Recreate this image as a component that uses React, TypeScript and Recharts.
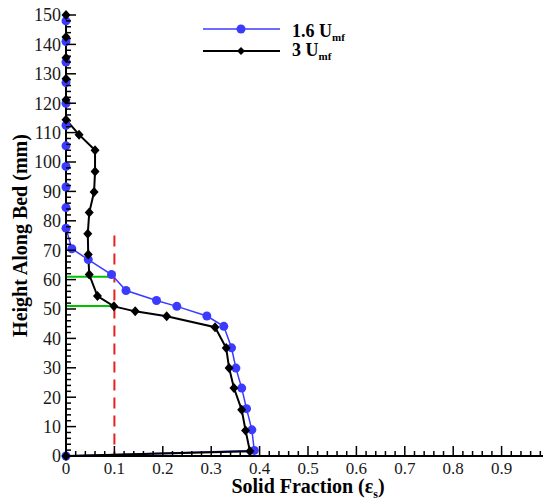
import React from 'react';
import { LineChart, Line, XAxis, YAxis, ReferenceLine, Legend } from 'recharts';

// 1.6 Umf series (blue circles): height (mm) and solid fraction
const heightsLow = [148, 141, 134, 127, 120, 112.5, 105.5, 98.5, 91.5, 84.5, 77.5, 70.5, 66.8, 61.7, 56.3, 52.9, 50.9, 47.6, 44.1, 36.8, 29.9, 23.1, 16.1, 8.9, 1.9, 0];
const fractionLow = [0, 0, 0, 0, 0, 0, 0, 0, 0, 0, 0, 0.012, 0.046, 0.094, 0.124, 0.187, 0.229, 0.291, 0.326, 0.342, 0.351, 0.363, 0.373, 0.384, 0.389, 0];

// 3 Umf series (black diamonds)
const heightsHigh = [150, 142.5, 135.5, 128.3, 121.2, 114.4, 109.3, 104, 96.8, 89.8, 82.8, 75.6, 68.5, 61.7, 54.4, 50.9, 49.2, 47.5, 43.8, 36.7, 29.9, 23.1, 15.7, 8.7, 1.6, 0];
const fractionHigh = [0, 0, 0, 0, 0, 0, 0.027, 0.06, 0.06, 0.058, 0.048, 0.045, 0.046, 0.048, 0.065, 0.099, 0.143, 0.208, 0.308, 0.331, 0.337, 0.347, 0.363, 0.371, 0.38, 0];

// annotation values
const greenLevels = [61, 51];
const cutoffFraction = 0.1;
const cutoffTop = 75;

// ticks
const xMajorTicks = [0, 0.1, 0.2, 0.3, 0.4, 0.5, 0.6, 0.7, 0.8, 0.9, 1];
const xTickLabels = ['0', '0.1', '0.2', '0.3', '0.4', '0.5', '0.6', '0.7', '0.8', '0.9', '1'];
const yMajorTicks = [0, 10, 20, 30, 40, 50, 60, 70, 80, 90, 100, 110, 120, 130, 140, 150];

const xAllTicks: number[] = [];
for (let i = 0; i <= 50; i++) xAllTicks.push(Math.round(i * 2) / 100);
const yAllTicks: number[] = [];
for (let i = 0; i <= 75; i++) yAllTicks.push(i * 2);

const lowData = heightsLow.map((h, i) => ({ x: fractionLow[i], y: h }));
const highData = heightsHigh.map((h, i) => ({ x: fractionHigh[i], y: h }));

const FONT = '"Liberation Serif", "Times New Roman", serif';
const BLUE = '#3b3bff';

const isMajorX = (v: number) => xMajorTicks.some((m) => Math.abs(m - v) < 1e-6);

const XTick = (props: any) => {
  const { x, y, payload } = props;
  const v = payload.value as number;
  const idx = xMajorTicks.findIndex((m) => Math.abs(m - v) < 1e-6);
  const major = idx >= 0;
  return (
    <g>
      <line x1={x} x2={x} y1={y} y2={y - (major ? 10 : 5)} stroke="#000" strokeWidth={1.5} />
      {major && (
        <text x={x} y={y + 18} textAnchor="middle" fontFamily={FONT} fontSize={17} fill="#1a1a1a">
          {xTickLabels[idx]}
        </text>
      )}
    </g>
  );
};

const YTick = (props: any) => {
  const { x, y, payload } = props;
  const v = payload.value as number;
  const major = yMajorTicks.includes(v);
  return (
    <g>
      <line x1={x} x2={x + (major ? 10 : 5)} y1={y} y2={y} stroke="#000" strokeWidth={1.5} />
      {major && (
        <text x={x - 5} y={y} dy="0.35em" textAnchor="end" fontFamily={FONT} fontSize={18} fill="#1a1a1a">
          {String(v)}
        </text>
      )}
    </g>
  );
};

const Diamond = (props: any) => {
  const { cx, cy, index } = props;
  if (cx == null || cy == null) return <g key={`dm-${index}`} />;
  return (
    <polygon
      key={`dm-${index}`}
      points={`${cx},${cy - 5} ${cx + 4.5},${cy} ${cx},${cy + 5} ${cx - 4.5},${cy}`}
      fill="#000"
    />
  );
};

const XTitle = (props: any) => {
  const vb = props.viewBox || {};
  const cx = vb.x + vb.width / 2;
  return (
    <text x={cx} y={vb.y + 37} textAnchor="middle" fontFamily={FONT} fontSize={20} fontWeight="bold" fill="#000">
      Solid Fraction (ε
      <tspan fontSize={12} dy={5}>s</tspan>
      <tspan dy={-5}>)</tspan>
    </text>
  );
};

const YTitle = (props: any) => {
  const vb = props.viewBox || {};
  const cy = vb.y + vb.height / 2;
  const x = 19;
  return (
    <text
      x={x}
      y={cy}
      transform={`rotate(-90, ${x}, ${cy})`}
      textAnchor="middle"
      fontFamily={FONT}
      fontSize={20}
      fontWeight="bold"
      fill="#000"
    >
      Height Along Bed (mm)
    </text>
  );
};

const LegendBox = () => (
  <svg width={200} height={50} style={{ overflow: 'visible', display: 'block' }}>
    <line x1={0} x2={77} y1={11} y2={11} stroke={BLUE} strokeWidth={1.5} />
    <circle cx={38} cy={11} r={4.5} fill={BLUE} />
    <text x={89} y={18.5} fontFamily={FONT} fontSize={18} fontWeight="bold" fill="#000">
      1.6 U<tspan fontSize={11} dy={4}>mf</tspan>
    </text>
    <line x1={0} x2={77} y1={33} y2={33} stroke="#000" strokeWidth={2} />
    <polygon points="38,29 42,33 38,37 34,33" fill="#000" />
    <text x={89} y={38} fontFamily={FONT} fontSize={18} fontWeight="bold" fill="#000">
      3 U<tspan fontSize={11} dy={4}>mf</tspan>
    </text>
  </svg>
);

export default function App() {
  return (
    <div style={{ width: 543, height: 494, position: 'relative' }}>
      <LineChart
        width={543}
        height={494}
        margin={{ top: 7, right: 1, left: 0, bottom: 0 }}
        style={{ overflow: 'visible' }}
      >
        <XAxis
          type="number"
          dataKey="x"
          domain={[0, 1]}
          ticks={xAllTicks}
          interval={0}
          tickSize={0}
          tickMargin={0}
          tickLine={false}
          tick={<XTick />}
          axisLine={{ stroke: '#000', strokeWidth: 2 }}
          height={46}
          label={<XTitle />}
        />
        <YAxis
          type="number"
          dataKey="y"
          domain={[0, 150]}
          ticks={yAllTicks}
          interval={0}
          tickSize={0}
          tickMargin={0}
          tickLine={false}
          tick={<YTick />}
          axisLine={{ stroke: '#000', strokeWidth: 2 }}
          width={58}
          label={<YTitle />}
        />
        <Legend
          layout="vertical"
          verticalAlign="middle"
          align="center"
          content={() => <LegendBox />}
          wrapperStyle={{ position: 'absolute', left: 195, top: 10, width: 200, height: 50 }}
        />
        {greenLevels.map((lv) => (
          <ReferenceLine
            key={`g-${lv}`}
            segment={[{ x: 0, y: lv }, { x: cutoffFraction, y: lv }]}
            stroke="#00c000"
            strokeWidth={2}
            ifOverflow="visible"
          />
        ))}
        <ReferenceLine
          segment={[{ x: cutoffFraction, y: cutoffTop }, { x: cutoffFraction, y: 0 }]}
          stroke="#e8201e"
          strokeWidth={2}
          strokeDasharray="11 7"
          ifOverflow="visible"
        />
        <Line
          data={lowData}
          dataKey="y"
          type="linear"
          stroke={BLUE}
          strokeWidth={1.5}
          dot={{ r: 4.5, fill: BLUE, stroke: BLUE, strokeWidth: 0 }}
          activeDot={false}
          isAnimationActive={false}
          legendType="circle"
          name="1.6 Umf"
        />
        <Line
          data={highData}
          dataKey="y"
          type="linear"
          stroke="#000"
          strokeWidth={2}
          dot={(p: any) => <Diamond {...p} key={`dm-${p.index}`} />}
          activeDot={false}
          isAnimationActive={false}
          legendType="diamond"
          name="3 Umf"
        />
      </LineChart>
    </div>
  );
}
